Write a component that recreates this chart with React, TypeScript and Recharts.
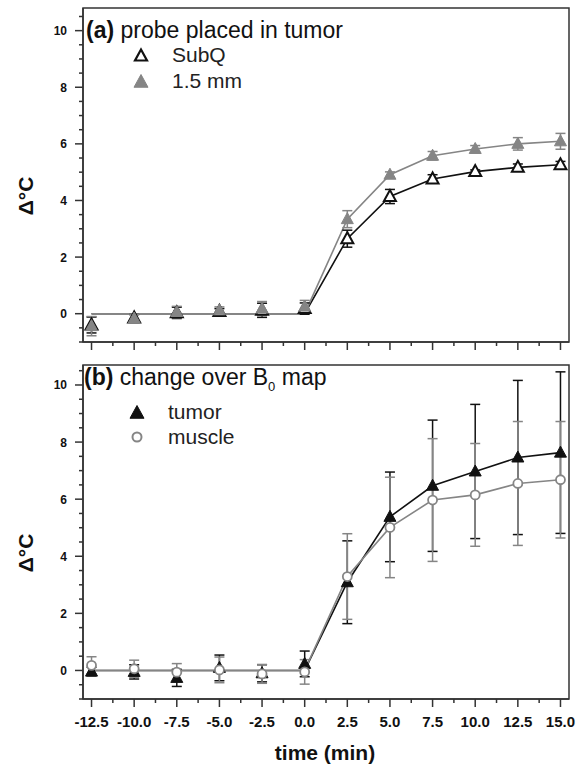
import React from "react";
import { ComposedChart, Line, XAxis, YAxis, ErrorBar, ReferenceArea } from "recharts";

// time points (min)
const time = [-12.5, -10, -7.5, -5, -2.5, 0, 2.5, 5, 7.5, 10, 12.5, 15];

// panel (a) probe placed in tumor
const subq = [-0.4, -0.15, 0.03, 0.08, 0.12, 0.18, 2.65, 4.14, 4.76, 5.02, 5.17, 5.26];
const subqErr = [0.28, 0.12, 0.2, 0.1, 0.25, 0.2, 0.3, 0.25, 0.15, 0.06, 0.12, 0.12];
const subqFit = [0, 0, 0, 0, 0, 0, 2.65, 4.14, 4.76, 5.02, 5.17, 5.26];
const mm15 = [-0.44, -0.17, 0.06, 0.12, 0.18, 0.25, 3.34, 4.91, 5.58, 5.82, 6.0, 6.09];
const mm15Err = [0.34, 0.14, 0.2, 0.12, 0.25, 0.22, 0.3, 0.1, 0.15, 0.12, 0.22, 0.28];
const mm15Fit = [0, 0, 0, 0, 0, 0, 3.34, 4.91, 5.58, 5.82, 6.0, 6.09];

// panel (b) change over B0 map
const tumor = [-0.04, -0.05, -0.26, 0.09, -0.1, 0.23, 3.09, 5.38, 6.47, 6.97, 7.46, 7.63];
const tumorErr = [0.15, 0.25, 0.3, 0.45, 0.3, 0.45, 1.45, 1.57, 2.3, 2.35, 2.7, 2.83];
const tumorFit = [0, 0, 0, 0, 0, 0, 3.09, 5.38, 6.47, 6.97, 7.46, 7.63];
const muscle = [0.18, 0.06, -0.06, 0.02, -0.12, -0.05, 3.29, 5.01, 5.97, 6.15, 6.55, 6.68];
const muscleErr = [0.3, 0.3, 0.3, 0.45, 0.33, 0.43, 1.5, 1.76, 2.15, 1.8, 2.17, 2.04];
const muscleFit = [0, 0, 0, 0, 0, 0, 3.29, 5.01, 5.97, 6.15, 6.55, 6.68];

// axes
const xMajor = [-12.5, -10, -7.5, -5, -2.5, 0, 2.5, 5, 7.5, 10, 12.5, 15];
const xLabels = ["-12.5", "-10.0", "-7.5", "-5.0", "-2.5", "0.0", "2.5", "5.0", "7.5", "10.0", "12.5", "15.0"];
const yMajor = [0, 2, 4, 6, 8, 10];
const yLabels = ["0", "2", "4", "6", "8", "10"];

const xTicks: number[] = [];
xMajor.forEach((v, i) => {
  xTicks.push(v);
  if (i < xMajor.length - 1) xTicks.push((v + xMajor[i + 1]) / 2);
});
const yTicks: number[] = [];
for (let v = -1; v <= 10.5; v += 0.5) yTicks.push(v);

const GRAY = "#858585";
const BLACK = "#111";
const AXIS = "#333";
const FONT = "'Liberation Sans', Arial, sans-serif";

const dataA = time.map((t, i) => ({
  t,
  subq: subq[i],
  subqErr: subqErr[i],
  subqFit: subqFit[i],
  mm15: mm15[i],
  mm15Err: mm15Err[i],
  mm15Fit: mm15Fit[i],
}));

const dataB = time.map((t, i) => ({
  t,
  tumor: tumor[i],
  tumorErr: tumorErr[i],
  tumorFit: tumorFit[i],
  muscle: muscle[i],
  muscleErr: muscleErr[i],
  muscleFit: muscleFit[i],
}));

const triPoints = (cx: number, cy: number, s = 6) =>
  `${cx},${cy - s - 0.5} ${cx - s},${cy + s * 0.75} ${cx + s},${cy + s * 0.75}`;

const XTick = (props: any) => {
  const { x, y, payload, showLabel } = props;
  const idx = xMajor.indexOf(payload.value);
  const major = idx >= 0;
  return (
    <g>
      <line x1={x} y1={y} x2={x} y2={y + (major ? 8 : 4)} stroke={AXIS} strokeWidth={1.5} />
      {major && showLabel && (
        <text x={x} y={y + 28} textAnchor="middle" fontFamily={FONT} fontWeight="bold" fontSize={15} fill="#111">
          {xLabels[idx]}
        </text>
      )}
    </g>
  );
};

const YTick = (props: any) => {
  const { x, y, payload } = props;
  const idx = yMajor.indexOf(payload.value);
  const major = idx >= 0;
  return (
    <g>
      <line x1={x} y1={y} x2={x - (major ? 8 : 4)} y2={y} stroke={AXIS} strokeWidth={1.5} />
      {major && (
        <text x={x - 16} y={y + 4.5} textAnchor="end" fontFamily={FONT} fontWeight="bold" fontSize={12} fill="#111">
          {yLabels[idx]}
        </text>
      )}
    </g>
  );
};

const openTri = (p: any) => (
  <polygon key={`ot-${p.index}`} points={triPoints(p.cx, p.cy)} fill="#fff" stroke={BLACK} strokeWidth={2} />
);
const grayTri = (p: any) => (
  <polygon key={`gt-${p.index}`} points={triPoints(p.cx, p.cy)} fill={GRAY} stroke={GRAY} strokeWidth={1} />
);
const blackTri = (p: any) => (
  <polygon key={`bt-${p.index}`} points={triPoints(p.cx, p.cy)} fill={BLACK} stroke={BLACK} strokeWidth={1} />
);
const openCircle = (p: any) => (
  <circle key={`oc-${p.index}`} cx={p.cx} cy={p.cy} r={4.5} fill="#fff" stroke={GRAY} strokeWidth={1.8} />
);

const LegendRow = ({ marker, label, top, left }: { marker: string; label: string; top: number; left: number }) => (
  <div style={{ position: "absolute", top: top - 12, left: left - 9, height: 24, display: "flex", alignItems: "center" }}>
    <svg width={18} height={18} style={{ display: "block" }}>
      {marker === "openTri" && <polygon points={triPoints(9, 10)} fill="#fff" stroke={BLACK} strokeWidth={2.2} />}
      {marker === "grayTri" && <polygon points={triPoints(9, 10, 7)} fill={GRAY} stroke={GRAY} />}
      {marker === "blackTri" && <polygon points={triPoints(9, 10, 7)} fill={BLACK} stroke={BLACK} />}
      {marker === "openCircle" && <circle cx={9} cy={9} r={4.5} fill="#fff" stroke={GRAY} strokeWidth={2} />}
    </svg>
    <span style={{ marginLeft: 22, fontFamily: FONT, fontSize: 21, color: "#222", lineHeight: "24px" }}>{label}</span>
  </div>
);

const App: React.FC = () => {
  return (
    <div style={{ position: "absolute", left: 0, top: 0, width: 576, height: 769, background: "#fff" }}>
      {/* panel (a) */}
      <div style={{ position: "absolute", left: 0, top: 0 }}>
        <ComposedChart width={576} height={360} data={dataA} margin={{ top: 8, right: 7, bottom: 0, left: 0 }}>
          <XAxis
            dataKey="t"
            type="number"
            domain={[-13, 15.5]}
            ticks={xTicks}
            interval={0}
            height={18}
            tickSize={0}
            tickMargin={0}
            tickLine={false}
            axisLine={{ stroke: AXIS, strokeWidth: 1.5 }}
            tick={(p: any) => <XTick {...p} showLabel={false} />}
            allowDataOverflow
          />
          <YAxis
            type="number"
            domain={[-1, 10.8]}
            ticks={yTicks}
            interval={0}
            width={83}
            tickSize={0}
            tickMargin={0}
            tickLine={false}
            axisLine={{ stroke: AXIS, strokeWidth: 1.5 }}
            tick={(p: any) => <YTick {...p} />}
            allowDataOverflow
          />
          <ReferenceArea x1={-13} x2={15.5} y1={-1} y2={10.8} fill="none" stroke={AXIS} strokeWidth={1.5} ifOverflow="visible" />
          <Line dataKey="subqFit" stroke={BLACK} strokeWidth={1.6} dot={false} activeDot={false} isAnimationActive={false} />
          <Line dataKey="mm15Fit" stroke={GRAY} strokeWidth={1.6} dot={false} activeDot={false} isAnimationActive={false} />
          <Line dataKey="subq" stroke="none" dot={openTri} activeDot={false} isAnimationActive={false}>
            <ErrorBar dataKey="subqErr" direction="y" width={5} stroke={BLACK} strokeWidth={1.5} />
          </Line>
          <Line dataKey="mm15" stroke="none" dot={grayTri} activeDot={false} isAnimationActive={false}>
            <ErrorBar dataKey="mm15Err" direction="y" width={5} stroke={GRAY} strokeWidth={1.5} />
          </Line>
        </ComposedChart>
      </div>

      {/* panel (b) */}
      <div style={{ position: "absolute", left: 0, top: 352 }}>
        <ComposedChart width={576} height={417} data={dataB} margin={{ top: 13, right: 7, bottom: 0, left: 0 }}>
          <XAxis
            dataKey="t"
            type="number"
            domain={[-13, 15.5]}
            ticks={xTicks}
            interval={0}
            height={70}
            tickSize={0}
            tickMargin={0}
            tickLine={false}
            axisLine={{ stroke: AXIS, strokeWidth: 1.5 }}
            tick={(p: any) => <XTick {...p} showLabel />}
            allowDataOverflow
          />
          <YAxis
            type="number"
            domain={[-1, 10.7]}
            ticks={yTicks}
            interval={0}
            width={83}
            tickSize={0}
            tickMargin={0}
            tickLine={false}
            axisLine={{ stroke: AXIS, strokeWidth: 1.5 }}
            tick={(p: any) => <YTick {...p} />}
            allowDataOverflow
          />
          <ReferenceArea x1={-13} x2={15.5} y1={-1} y2={10.7} fill="none" stroke={AXIS} strokeWidth={1.5} ifOverflow="visible" />
          <Line dataKey="tumorFit" stroke={BLACK} strokeWidth={1.6} dot={false} activeDot={false} isAnimationActive={false} />
          <Line dataKey="muscleFit" stroke={GRAY} strokeWidth={1.6} dot={false} activeDot={false} isAnimationActive={false} />
          <Line dataKey="tumor" stroke="none" dot={blackTri} activeDot={false} isAnimationActive={false}>
            <ErrorBar dataKey="tumorErr" direction="y" width={5} stroke={BLACK} strokeWidth={1.5} />
          </Line>
          <Line dataKey="muscle" stroke="none" dot={openCircle} activeDot={false} isAnimationActive={false}>
            <ErrorBar dataKey="muscleErr" direction="y" width={5} stroke={GRAY} strokeWidth={1.5} />
          </Line>
        </ComposedChart>
      </div>

      {/* titles and legends */}
      <div style={{ position: "absolute", left: 86, top: 17, fontFamily: FONT, fontSize: 23, lineHeight: "26px", color: "#111", whiteSpace: "nowrap" }}>
        <b>(a)</b> probe placed in tumor
      </div>
      <LegendRow marker="openTri" label="SubQ" top={55} left={141} />
      <LegendRow marker="grayTri" label="1.5 mm" top={81} left={141} />

      <div style={{ position: "absolute", left: 84, top: 364, fontFamily: FONT, fontSize: 23, lineHeight: "26px", color: "#111", whiteSpace: "nowrap" }}>
        <b>(b)</b> change over B<sub style={{ fontSize: 13 }}>0</sub> map
      </div>
      <LegendRow marker="blackTri" label="tumor" top={412} left={137} />
      <LegendRow marker="openCircle" label="muscle" top={437} left={137} />

      {/* axis titles */}
      {[196, 553].map((cy) => (
        <div
          key={cy}
          style={{
            position: "absolute",
            left: 26 - 30,
            top: cy - 12,
            width: 60,
            height: 24,
            textAlign: "center",
            transform: "rotate(-90deg)",
            fontFamily: FONT,
            fontWeight: "bold",
            fontSize: 21,
            lineHeight: "24px",
            color: "#111",
          }}
        >
          Δ°C
        </div>
      ))}
      <div
        style={{
          position: "absolute",
          left: 325 - 80,
          top: 753 - 13,
          width: 160,
          textAlign: "center",
          fontFamily: FONT,
          fontWeight: "bold",
          fontSize: 21,
          lineHeight: "26px",
          color: "#111",
        }}
      >
        time (min)
      </div>
    </div>
  );
};

export default App;
